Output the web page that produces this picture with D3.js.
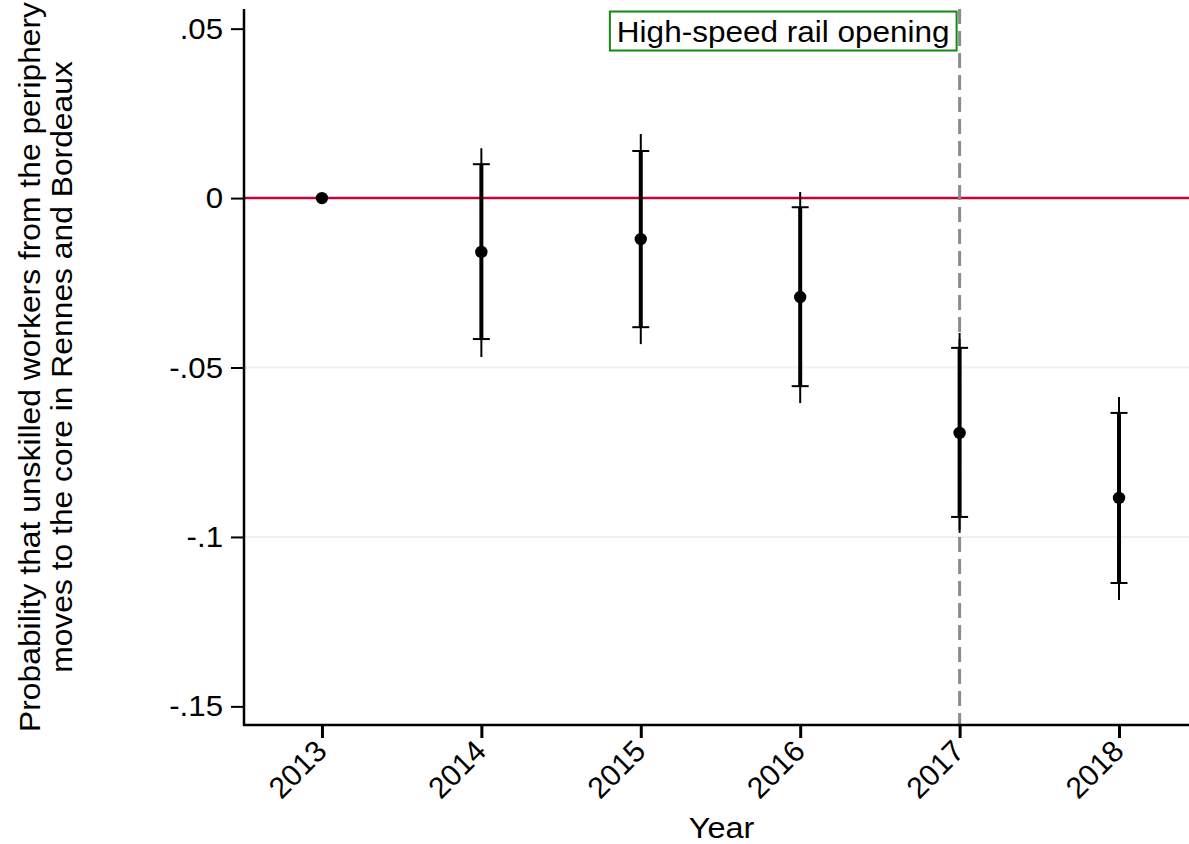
<!DOCTYPE html>
<html>
<head>
<meta charset="utf-8">
<script src="https://cdn.jsdelivr.net/npm/d3@7"></script>
<style>
  body { margin: 0; background: #fff; }
  text { font-family: "Liberation Sans", Arial, sans-serif; fill: #000; }
</style>
</head>
<body>
<div id="graph"></div>
<script>
// coefficients by year, with inner (capped) and outer confidence intervals
const years = [2013, 2014, 2015, 2016, 2017, 2018];
const coef = [0, -0.0159, -0.0121, -0.0292, -0.0693, -0.0885];
const innerLo = [0, -0.0416, -0.0381, -0.0555, -0.0941, -0.1136];
const innerHi = [0, 0.0100, 0.0139, -0.0027, -0.0442, -0.0634];
const outerLo = [0, -0.0469, -0.0431, -0.0605, -0.0988, -0.1186];
const outerHi = [0, 0.0147, 0.0189, 0.0018, -0.0398, -0.0587];
const yTicks = [0.05, 0, -0.05, -0.1, -0.15];
const yTickLabels = ['.05', '0', '-.05', '-.1', '-.15'];
const gridValues = [-0.05, -0.1];
const eventYear = 2017;
const eventLabel = 'High-speed rail opening';

const svgWidth = 1189, svgHeight = 844;
const plotLeft = 244, plotRight = 1189, plotTop = 9, plotBottom = 725;
const fontSize = 30;

// the original font is a bit wider than Liberation Sans, so widen the glyphs
function widen(sel, k) {
    sel.each(function () {
        const len = this.getComputedTextLength();
        d3.select(this)
            .attr('textLength', len * k)
            .attr('lengthAdjust', 'spacingAndGlyphs');
    });
}

const svg = d3.select('#graph')
    .append('svg')
    .attr('width', svgWidth)
    .attr('height', svgHeight);

const xScale = d3.scaleLinear()
    .domain([2012.511, 2018.439])
    .range([plotLeft, plotRight]);

const yScale = d3.scaleLinear()
    .domain([-0.1555, 0.0558])
    .range([plotBottom, plotTop]);

const rows = years.map((y, i) => ({
    year: y, b: coef[i],
    lo1: innerLo[i], hi1: innerHi[i],
    lo2: outerLo[i], hi2: outerHi[i]
}));

// grid
svg.selectAll('.grid')
    .data(gridValues)
    .enter()
    .append('line')
    .attr('x1', plotLeft).attr('x2', plotRight)
    .attr('y1', d => yScale(d)).attr('y2', d => yScale(d))
    .attr('stroke', '#eaf2f3')
    .attr('stroke-width', 2);

// zero line
svg.append('line')
    .attr('x1', plotLeft).attr('x2', plotRight)
    .attr('y1', yScale(0)).attr('y2', yScale(0))
    .attr('stroke', '#c10534')
    .attr('stroke-width', 2.5);

// event line
svg.append('line')
    .attr('x1', xScale(eventYear)).attr('x2', xScale(eventYear))
    .attr('y1', plotTop).attr('y2', plotBottom)
    .attr('stroke', '#8c8c8c')
    .attr('stroke-width', 3)
    .attr('stroke-dasharray', '15,7');

// axes
const yAxis = d3.axisLeft(yScale)
    .tickValues(yTicks)
    .tickFormat((d, i) => yTickLabels[i])
    .tickSize(13)
    .tickPadding(8)
    .tickSizeOuter(0);

const gy = svg.append('g')
    .attr('transform', 'translate(' + plotLeft + ',0)')
    .call(yAxis);
gy.select('.domain').remove();
gy.selectAll('.tick line').attr('stroke', '#000').attr('stroke-width', 2);
gy.selectAll('.tick text').attr('font-size', fontSize).call(widen, 1.04);

const xAxis = d3.axisBottom(xScale)
    .tickValues(years)
    .tickFormat(d3.format('d'))
    .tickSize(13)
    .tickSizeOuter(0);

const gx = svg.append('g')
    .attr('transform', 'translate(0,' + plotBottom + ')')
    .call(xAxis);
gx.select('.domain').remove();
gx.selectAll('.tick line').attr('stroke', '#000').attr('stroke-width', 3);
gx.selectAll('.tick text')
    .attr('font-size', fontSize)
    .attr('text-anchor', 'end')
    .attr('dy', null)
    .attr('y', 0)
    .attr('transform', 'translate(6,28) rotate(-45)');

svg.append('line')
    .attr('x1', plotLeft).attr('x2', plotLeft)
    .attr('y1', plotTop).attr('y2', plotBottom + 1)
    .attr('stroke', '#000').attr('stroke-width', 2.5);
svg.append('line')
    .attr('x1', plotLeft - 1).attr('x2', plotRight)
    .attr('y1', plotBottom).attr('y2', plotBottom)
    .attr('stroke', '#000').attr('stroke-width', 2.5);

// intervals
const withCI = rows.filter(d => d.lo2 !== d.hi2);

svg.selectAll('.outer')
    .data(withCI)
    .enter()
    .append('line')
    .attr('x1', d => xScale(d.year)).attr('x2', d => xScale(d.year))
    .attr('y1', d => yScale(d.hi2)).attr('y2', d => yScale(d.lo2))
    .attr('stroke', '#000').attr('stroke-width', 2);

svg.selectAll('.inner')
    .data(withCI)
    .enter()
    .append('line')
    .attr('x1', d => xScale(d.year)).attr('x2', d => xScale(d.year))
    .attr('y1', d => yScale(d.hi1)).attr('y2', d => yScale(d.lo1))
    .attr('stroke', '#000').attr('stroke-width', 4);

const caps = [];
withCI.forEach(d => { caps.push({ year: d.year, v: d.hi1 }); caps.push({ year: d.year, v: d.lo1 }); });
svg.selectAll('.cap')
    .data(caps)
    .enter()
    .append('line')
    .attr('x1', d => xScale(d.year) - 8.5).attr('x2', d => xScale(d.year) + 8.5)
    .attr('y1', d => yScale(d.v)).attr('y2', d => yScale(d.v))
    .attr('stroke', '#000').attr('stroke-width', 2);

svg.selectAll('.pt')
    .data(rows)
    .enter()
    .append('circle')
    .attr('cx', d => xScale(d.year))
    .attr('cy', d => yScale(d.b))
    .attr('r', 6.2)
    .attr('fill', '#000');

// event label box
const label = svg.append('text')
    .attr('x', xScale(eventYear) - 10)
    .attr('y', yScale(0.0493))
    .attr('dy', '0.35em')
    .attr('text-anchor', 'end')
    .attr('font-size', fontSize)
    .text(eventLabel)
    .call(widen, 1.05);
const bb = label.node().getBBox();
svg.append('rect')
    .attr('x', bb.x - 7).attr('y', bb.y - 3)
    .attr('width', bb.width + 14).attr('height', bb.height + 6)
    .attr('fill', '#fff')
    .attr('stroke', '#118a11')
    .attr('stroke-width', 2);
label.raise();

// titles
svg.append('text')
    .attr('x', (plotLeft + plotRight) / 2 + 5)
    .attr('y', 838)
    .attr('text-anchor', 'middle')
    .attr('font-size', fontSize)
    .text('Year')
    .call(widen, 1.08);

const yTitle = svg.append('text')
    .attr('transform', 'translate(40,' + ((plotTop + plotBottom) / 2) + ') rotate(-90)')
    .attr('text-anchor', 'middle')
    .attr('font-size', fontSize);
yTitle.append('tspan').attr('x', 0).attr('y', 0)
    .text('Probability that unskilled workers from the periphery');
yTitle.append('tspan').attr('x', 0).attr('y', 32)
    .text('moves to the core in Rennes and Bordeaux');
yTitle.selectAll('tspan').call(widen, 1.06);
</script>
</body>
</html>
